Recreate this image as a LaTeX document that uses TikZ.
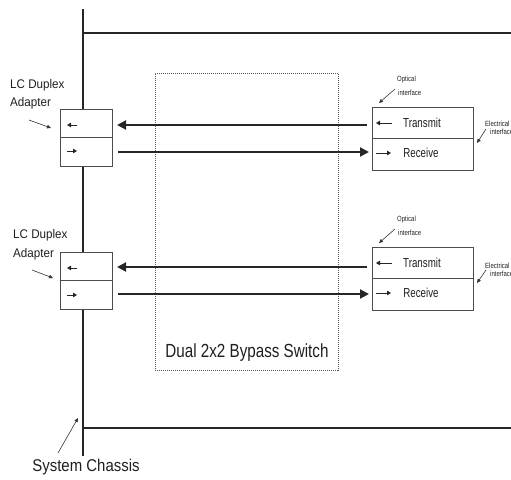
\documentclass[tikz,border=0pt]{standalone}
\usepackage{fontspec}
\usepackage{graphicx}
\setmainfont{Liberation Sans}
\usetikzlibrary{arrows.meta}
\newcommand{\nx}[3]{{\fontsize{#1}{#1}\selectfont\scalebox{#2}[1]{#3}}}
\begin{document}
\begin{tikzpicture}[x=1pt,y=-1pt,
  txt/.style={text=black!88, inner sep=0pt},
  chassis/.style={line width=2.2pt, draw=black!85},
  box/.style={draw=black!70, line width=0.8pt, fill=white, inner sep=0pt},
  divider/.style={draw=black!70, line width=0.8pt},
  big/.style={line width=2pt, draw=black!85, -{Triangle[length=9pt,width=9pt]}},
  small/.style={line width=0.9pt, draw=black!85, -{Triangle[length=4pt,width=4.5pt]}},
  ptr/.style={line width=0.6pt, draw=black!80, -{Triangle[length=4pt,width=3.5pt]}},
  sw/.style={draw=black!65, line width=1pt, densely dotted}]
\useasboundingbox (0,0) rectangle (511,479);
\clip (0,0) rectangle (511,479);

% bypass switch (dotted box)
\node[sw, minimum width=183, minimum height=297] (SW) at (246.5,221.5) {};
\node[txt] (SWL) at (247,353) {\nx{19}{0.8}{Dual 2x2 Bypass Switch}};

% chassis
\coordinate (CT) at (83,9);
\coordinate (CB) at (83,456);
\coordinate (HT0) at (83,33);
\coordinate (HT1) at (515,33);
\coordinate (HB0) at (83,428);
\coordinate (HB1) at (515,428);
\draw[chassis] (CT) -- (CB);
\draw[chassis] (HT0) -- (HT1);
\draw[chassis] (HB0) -- (HB1);

% LC duplex adapters
\node[box, minimum width=52, minimum height=57] (A1) at (86,137.5) {};
\draw[divider] (A1.west) -- (A1.east);
\node[box, minimum width=52, minimum height=57] (A2) at (86,280.5) {};
\draw[divider] (A2.west) -- (A2.east);
\draw[small] (77,125) -- (67,125);
\draw[small] (67,151) -- (77,151);
\draw[small] (77,268) -- (67,268);
\draw[small] (67,295) -- (77,295);

% optical modules
\node[box, minimum width=101, minimum height=63] (R1) at (422.5,138.5) {};
\draw[divider] (R1.west) -- (R1.east);
\node[box, minimum width=101, minimum height=63] (R2) at (422.5,278.5) {};
\draw[divider] (R2.west) -- (R2.east);

\node[txt] (T1) at (422,123) {\nx{13}{0.75}{Transmit}};
\node[txt] (V1) at (421,153) {\nx{13}{0.75}{Receive}};
\node[txt] (T2) at (422,263) {\nx{13}{0.75}{Transmit}};
\node[txt] (V2) at (421,293) {\nx{13}{0.75}{Receive}};
\draw[small] (392,123) -- (376,123);
\draw[small] (376,153) -- (391,153);
\draw[small] (392,263) -- (376,263);
\draw[small] (376,293) -- (391,293);

% big arrows
\coordinate (B1a) at (367,125);
\coordinate (B1b) at (117,125);
\coordinate (B1c) at (118,152);
\coordinate (B1d) at (369,152);
\coordinate (B2a) at (367,267);
\coordinate (B2b) at (117,267);
\coordinate (B2c) at (118,294);
\coordinate (B2d) at (369,294);
\draw[big] (B1a) -- (B1b);
\draw[big] (B1c) -- (B1d);
\draw[big] (B2a) -- (B2b);
\draw[big] (B2c) -- (B2d);

% LC duplex labels
\node[txt, anchor=west] (L1a) at (10,85) {\nx{12.5}{0.93}{LC Duplex}};
\node[txt, anchor=west] (L1b) at (10,103) {\nx{12.5}{0.93}{Adapter}};
\node[txt, anchor=west] (L2a) at (13,235) {\nx{12.5}{0.93}{LC Duplex}};
\node[txt, anchor=west] (L2b) at (13,254) {\nx{12.5}{0.93}{Adapter}};
\coordinate (P1s) at (29,120); \coordinate (P1e) at (51,128);
\coordinate (P2s) at (32,270); \coordinate (P2e) at (53,278);
\draw[ptr] (P1s) -- (P1e);
\draw[ptr] (P2s) -- (P2e);

% optical interface labels
\node[txt, anchor=west] (O1a) at (397,80) {\nx{7.5}{0.8}{Optical}};
\node[txt, anchor=west] (O1b) at (398,93) {\nx{7.5}{0.8}{interface}};
\node[txt, anchor=west] (O2a) at (397,220) {\nx{7.5}{0.8}{Optical}};
\node[txt, anchor=west] (O2b) at (398,233) {\nx{7.5}{0.8}{interface}};
\coordinate (Q1s) at (395,89); \coordinate (Q1e) at (379,103);
\coordinate (Q2s) at (395,229); \coordinate (Q2e) at (379,243);
\draw[ptr] (Q1s) -- (Q1e);
\draw[ptr] (Q2s) -- (Q2e);

% electrical interface labels (cut by the right edge, as in the reference)
\node[txt, anchor=west] (E1a) at (485,124) {\nx{7.5}{0.8}{Electrical}};
\node[txt, anchor=west] (E1b) at (490,132) {\nx{7.5}{0.8}{interface}};
\node[txt, anchor=west] (E2a) at (485,266) {\nx{7.5}{0.8}{Electrical}};
\node[txt, anchor=west] (E2b) at (490,274) {\nx{7.5}{0.8}{interface}};
\coordinate (F1s) at (486,129); \coordinate (F1e) at (477,143);
\coordinate (F2s) at (486,270); \coordinate (F2e) at (477,283);
\draw[ptr] (F1s) -- (F1e);
\draw[ptr] (F2s) -- (F2e);

% system chassis label
\node[txt] (SC) at (86,467) {\nx{17}{0.88}{System Chassis}};
\coordinate (S1s) at (58,453); \coordinate (S1e) at (78,418);
\draw[ptr] (S1s) -- (S1e);
\end{tikzpicture}
\end{document}
